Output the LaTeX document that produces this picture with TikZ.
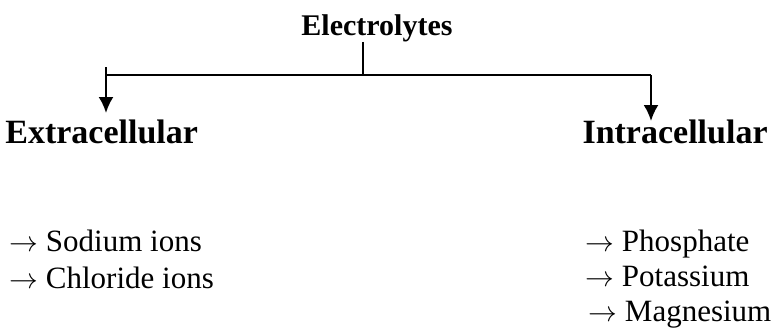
\documentclass[tikz,border=0pt]{standalone}
\usepackage{fontspec}
\setmainfont{Liberation Serif}
\usepackage{amsmath, amssymb}
\usetikzlibrary{arrows.meta}

\begin{document}
\begin{tikzpicture}[x=0.5pt, y=-0.5pt]
        \tikzstyle{head} = [inner sep=0pt, anchor=base, font=\fontsize{15}{18}\selectfont\bfseries]
        \tikzstyle{side} = [inner sep=0pt, font=\fontsize{17}{20}\selectfont\bfseries]
        \tikzstyle{item} = [inner sep=0pt, anchor=base west, font=\fontsize{15.5}{18}\selectfont]
        \tikzstyle{link} = [line width=1.1pt]
        \tikzstyle{tight} = [-{Latex[length=8pt, width=7.5pt]}, line width=1.1pt]
        \useasboundingbox (0,0) rectangle (774,333);
        \node[head] (E) at (377,35) {Electrolytes};
        \node[side, anchor=base west] (X) at (5,143) {Extracellular};
        \node[side, anchor=base east] (I) at (768,143) {Intracellular};
        \coordinate (S) at (363,75);
        \coordinate (T) at (106,67);
        \coordinate (L) at (106,75);
        \coordinate (R) at (651,75);
        \coordinate (XA) at (106,113);
        \coordinate (IA) at (651,121);
        \node[item] (Na) at (9,251) {$\rightarrow$ Sodium ions};
        \node[item] (Cl) at (9,288) {$\rightarrow$ Chloride ions};
        \node[item] (P) at (585,251) {$\rightarrow$ Phosphate};
        \node[item] (K) at (585,286) {$\rightarrow$ Potassium};
        \node[item] (Mg) at (588,321) {$\rightarrow$ Magnesium};
        \path[link]
        (S |- E.south) edge node {} (S)
        (L) edge node {} (R);
        \path[tight]
        (T) edge node {} (XA)
        (R) edge node {} (IA);
    \end{tikzpicture}
\end{document}
